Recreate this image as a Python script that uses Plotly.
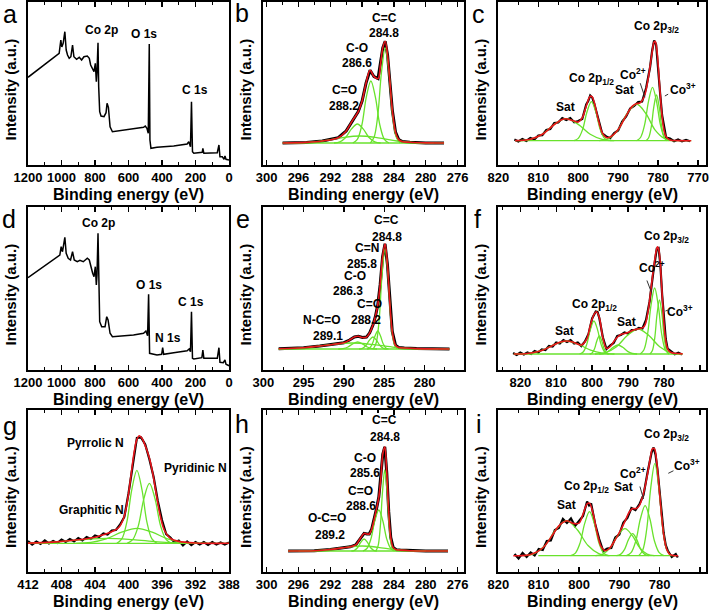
import plotly.graph_objects as go

FONT = "Liberation Sans"
RED = "#e8151b"
GREEN = "#69e22c"

# ---------- (a) survey, sample 1
a_x = [1200, 1150, 1120, 1090, 1065, 1040, 1014, 1004, 998, 990, 980, 972, 964, 954, 944, 934, 926, 910, 894, 880,
       866, 846, 834, 826, 814, 806, 798, 792, 788, 782, 778, 772, 764, 746, 734, 728, 720, 710, 696, 650,
       570, 510, 500, 490, 482, 476, 472, 466, 430, 330, 250, 240, 230, 224, 218, 210, 160, 156, 150, 70,
       60, 54, 40, 30, 24, 18, 0]
a_y = [87.7, 94.3, 97.5, 101.7, 105.5, 108.3, 111.7, 125.0, 118.0, 121.7, 133.3, 115.0, 110.0, 106.7, 108.3, 120.0, 108.3, 105.7, 107.7, 105.0,
       108.3, 109.0, 106.7, 100.0, 96.7, 93.3, 101.7, 83.3, 93.3, 122.3, 78.3, 53.3, 49.0, 48.3, 52.3, 61.7, 57.7, 38.3, 33.3, 34.3,
       35.7, 37.7, 39.0, 36.7, 31.7, 121.0, 25.0, 16.7, 17.7, 19.0, 21.0, 23.3, 18.3, 63.3, 13.3, 11.7, 12.7, 16.7, 11.7, 12.3,
       20.0, 8.3, 8.3, 5.7, 9.0, 5.7, 5.0]

# ---------- (d) survey, sample 2
d_x = [1200, 1150, 1090, 1040, 1010, 1002, 994, 980, 972, 960, 946, 934, 924, 906, 890, 870, 846, 834, 826, 814,
       806, 798, 792, 788, 782, 778, 772, 760, 740, 730, 722, 710, 696, 570, 510, 496, 486, 480, 474, 430,
       402, 396, 390, 330, 250, 238, 230, 224, 218, 210, 162, 156, 150, 70, 60, 54, 34, 24, 18, 0]
d_y = [92.3, 98.3, 105.0, 110.7, 115.0, 123.3, 118.3, 132.7, 116.7, 111.7, 110.0, 118.3, 110.0, 108.3, 109.7, 108.3, 111.7, 110.0, 103.3, 96.7,
       93.3, 103.3, 85.0, 95.0, 136.7, 81.7, 48.3, 43.3, 43.3, 53.3, 50.0, 36.7, 33.3, 35.0, 36.7, 39.0, 34.3, 75.7, 16.7, 15.0,
       15.7, 22.3, 15.7, 17.3, 19.3, 21.0, 18.3, 58.3, 11.7, 11.0, 12.3, 20.0, 11.7, 11.7, 22.3, 7.7, 7.3, 10.0, 5.7, 4.3]

# ---------- (b) C 1s, sample 1
b_fit_x = [298, 295, 293, 291, 290, 289.5, 289, 288.5, 288, 287.5, 287, 286.5, 286, 285.7, 285.4, 285.1, 284.8, 284.5,
           284.2, 283.8, 283.4, 283, 282, 280, 277.7]
b_fit_y = [22.0, 22.6, 24.0, 27.3, 34.1, 40.7, 47.0, 53.2, 63.9, 82.1, 94.8, 88.3, 86.4, 99.7, 117.1, 123.7, 110.0, 82.4,
           54.9, 32.9, 25.4, 23.6, 22.7, 22.1, 22.0]
b_peaks_x = [[283.23, 283.7, 284.17, 284.63, 285.1, 285.57, 286.03, 286.5, 286.97],
             [284.63, 285.2, 285.77, 286.33, 286.9, 287.47, 288.03, 288.6, 289.17],
             [285.67, 286.4, 287.13, 287.87, 288.6, 289.33, 290.07, 290.8, 291.53],
             [279.0, 281.3, 283.6, 286.0, 288.3, 290.6, 293.0, 295.3, 297.6]]
b_peaks_y = [[22, 27.7, 49.6, 92.3, 117, 92.3, 49.6, 27.7, 22],
             [22, 25.7, 40, 67.9, 84, 67.9, 40, 25.7, 22],
             [22, 23.1, 27.5, 36.1, 41, 36.1, 27.5, 23.1, 22],
             [22, 22.4, 24, 27.2, 29, 27.2, 24, 22.4, 22]]
b_base_x = [298.0, 277.7]
b_base_y = [22, 22]

# ---------- (e) C 1s, sample 2
e_fit_x = [298.1, 295, 293, 291, 290, 289.3, 288.7, 288.2, 287.7, 287.2, 286.8, 286.4, 286.1, 285.8, 285.5, 285.2, 284.9,
           284.6, 284.3, 284, 283.6, 283.2, 282.5, 281, 276.9]
e_fit_y = [21.2, 22.3, 24.0, 26.0, 27.3, 30.0, 33.1, 33.7, 32.5, 32.9, 37.2, 45.0, 53.3, 65.1, 85.5, 113.3, 126.1,
           105.3, 67.1, 38.6, 24.8, 22.5, 22.0, 21.4, 21.0]
e_peaks_x = [[283.43, 283.8, 284.17, 284.53, 284.9, 285.27, 285.63, 286.0, 286.37],
             [284.47, 284.8, 285.13, 285.47, 285.8, 286.13, 286.47, 286.8, 287.13],
             [284.67, 285.1, 285.53, 285.97, 286.4, 286.83, 287.27, 287.7, 288.13],
             [285.9, 286.5, 287.1, 287.7, 288.3, 288.9, 289.5, 290.1, 290.7],
             [278.3, 281.0, 283.7, 286.3, 289.0, 291.7, 294.3, 297.0, 298.1]]
e_peaks_y = [[21, 27, 50, 95, 121, 95, 50, 27, 21],
             [21, 22.1, 26.2, 34.3, 39, 34.3, 26.2, 22.1, 21],
             [21, 21.7, 24.5, 29.9, 33, 29.9, 24.5, 21.7, 21],
             [21, 21.4, 23, 26.2, 28, 26.2, 23, 21.4, 21],
             [21, 21.4, 22.7, 25.4, 27, 25.4, 22.7, 21.4, 21.2]]
e_base_x = [298.1, 276.9]
e_base_y = [21, 21]

# ---------- (h) C 1s, sample 3
h_fit_x = [297.3, 294, 292, 290.5, 289.5, 288.8, 288.3, 287.75, 287.4, 287.1, 286.8, 286.5, 286.2, 285.9, 285.65, 285.4,
           285.15, 284.9, 284.65, 284.4, 284.1, 283.7, 283.2, 282, 280, 277.2]
h_fit_y = [21.0, 21.3, 22.5, 24.1, 25.2, 27.2, 32.7, 38.6, 38.0, 38.0, 42.7, 52.1, 62.9, 74.9, 93.3, 117.8,
           125.2, 99.1, 60.1, 34.7, 24.6, 22.3, 21.9, 21.3, 21.0, 21.0]
h_peaks_x = [[284.02, 284.3, 284.58, 284.87, 285.15, 285.43, 285.72, 286.0, 286.28],
             [283.9, 284.4, 284.9, 285.4, 285.9, 286.4, 286.9, 287.4, 287.9],
             [286.15, 286.55, 286.95, 287.35, 287.75, 288.15, 288.55, 288.95, 289.35],
             [280, 282, 284, 286, 288, 290, 292, 294, 296]]
h_peaks_y = [[21, 25.9, 44.5, 80.9, 102, 80.9, 44.5, 25.9, 21],
             [21, 23.5, 32.9, 51.3, 62, 51.3, 32.9, 23.5, 21],
             [21, 21.7, 24.5, 29.9, 33, 29.9, 24.5, 21.7, 21],
             [21, 21.3, 22.5, 24.7, 26, 24.7, 22.5, 21.3, 21]]
h_base_x = [297.3, 277.2]
h_base_y = [21, 21]

# ---------- (c) Co 2p, sample 1
c_data_x = [816, 815, 814, 813, 812, 811, 810, 809, 808, 807, 806, 805, 804, 803, 802, 801, 800, 799, 798, 797.5,
            797, 796.5, 796, 795, 794, 793, 792, 791, 790, 789, 788, 787, 786, 785, 784, 783, 782.5, 782, 781.5, 781,
            780.5, 780, 779.5, 779, 778, 777, 776, 775, 774, 773, 772]
c_data_y = [25.5, 23.5, 26.0, 24.0, 27.0, 25.5, 29.5, 29.8, 35.0, 36.0, 42.0, 42.5, 47.0, 45.0, 47.0, 42.8, 44.0, 46.0, 60.5, 64.0,
            69.5, 67.5, 61.5, 46.5, 31.5, 28.5, 26.8, 32.0, 34.5, 43.5, 48.5, 56.5, 59.0, 63.0, 63.5, 77.0, 87.0, 98.0, 114.0, 124.5,
            120.5, 100.0, 72.0, 50.0, 27.5, 26.5, 23.8, 25.5, 23.6, 25.0, 23.8]
c_fit_x = [815.8, 812, 809, 806, 804, 803, 801, 800, 799, 798, 797, 796.5, 796, 795, 794, 793, 792, 790, 788, 786.5,
           785.5, 784.5, 783.5, 782.5, 782, 781.5, 781, 780.7, 780.3, 780, 779.5, 779, 778.5, 778, 777, 775, 771.7]
c_fit_y = [24.4, 25.7, 30.7, 40.5, 45.6, 46.3, 43.9, 42.9, 47.1, 59.0, 68.8, 68.1, 62.8, 45.7, 32.4, 27.6, 27.9, 35.4, 49.3, 58.6,
           61.3, 62.2, 68.0, 85.9, 98.9, 112.7, 123.0, 123.5, 114.8, 101.3, 73.0, 48.6, 34.5, 28.3, 25.1, 24.4, 24.3]
c_peaks_x = [[791, 794, 797, 800, 803, 806, 809, 812, 815],
             [792.3, 793.4, 794.5, 795.6, 796.7, 797.8, 798.9, 800.0, 801.1],
             [776.07, 778.4, 780.73, 783.07, 785.4, 787.73, 790.07, 792.4, 794.73],
             [777.4, 778.4, 779.4, 780.4, 781.4, 782.4, 783.4, 784.4, 785.4],
             [777.73, 778.4, 779.07, 779.73, 780.4, 781.07, 781.73, 782.4, 783.07]]
c_peaks_y = [[24.3, 25.6, 30.7, 40.6, 46.3, 40.6, 30.7, 25.6, 24.3],
             [24.3, 26.6, 35.6, 53.2, 63.3, 53.2, 35.6, 26.6, 24.3],
             [24.3, 26.5, 34.9, 51.5, 61, 51.5, 34.9, 26.5, 24.3],
             [24.3, 27.5, 39.8, 63.7, 77.6, 63.7, 39.8, 27.5, 24.3],
             [24.3, 27.0, 37.6, 58.1, 70, 58.1, 37.6, 27.0, 24.3]]
c_base_x = [815.8, 771.7]
c_base_y = [24.3, 24.3]

# ---------- (f) Co 2p, sample 2
f_data_x = [822, 821, 820, 819, 818, 817, 816, 815, 814, 813, 812, 811, 810, 809, 808, 807, 806, 805, 804, 803,
            802, 801, 800, 799, 798.5, 798, 797, 796, 795, 794, 793, 792, 791, 790, 789, 788, 787, 786, 785, 784,
            783, 782.5, 782, 781.5, 781, 780.5, 780, 779.5, 779, 778, 777, 776, 775]
f_data_y = [17.0, 15.0, 17.5, 15.5, 17.5, 16.0, 19.0, 17.5, 20.5, 20.0, 24.0, 23.5, 27.5, 26.5, 30.0, 28.0, 30.0, 26.5, 27.5, 24.0,
            28.5, 36.0, 51.5, 58.5, 58.0, 52.0, 32.5, 21.0, 24.5, 27.0, 34.0, 35.0, 37.5, 36.5, 40.0, 40.0, 42.0, 41.5, 50.0, 68.5,
            97.0, 112.0, 121.5, 122.0, 105.0, 75.0, 47.5, 31.0, 21.5, 18.5, 15.8, 17.2, 15.5]
f_fit_x = [821.8, 818, 814, 811, 809, 807, 805, 803, 801.5, 800.5, 799.5, 798.8, 798, 797, 796, 795, 794, 793, 792, 790,
           788.5, 787, 785.5, 784.5, 783.5, 782.8, 782.2, 781.8, 781.4, 781, 780.6, 780.2, 779.8, 779.3, 778.8, 778, 777, 774.8]
f_fit_y = [16.0, 16.5, 19.5, 24.5, 27.8, 29.0, 27.5, 25.0, 31.0, 44.5, 55.4, 58.2, 52.4, 31.9, 21.6, 23.3, 28.2, 32.8, 35.5, 37.4,
           40.0, 41.2, 43.6, 57.2, 84.6, 104.3, 118.3, 123.2, 119.4, 104.4, 81.2, 57.1, 38.3, 25.1, 19.8, 17.5, 16.7, 16.1]
f_peaks_x = [[793.77, 797.1, 800.43, 803.77, 807.1, 810.43, 813.77, 817.1, 820.43],
             [795.5, 796.5, 797.5, 798.5, 799.5, 800.5, 801.5, 802.5, 803.5],
             [795.33, 796.0, 796.67, 797.33, 798.0, 798.67, 799.33, 800.0, 800.67],
             [787.47, 788.8, 790.13, 791.47, 792.8, 794.13, 795.47, 796.8, 798.13],
             [775.2, 778.2, 781.2, 784.2, 787.2, 790.2, 793.2, 796.2, 799.2],
             [778.6, 779.6, 780.6, 781.6, 782.6, 783.6, 784.6, 785.6, 786.6],
             [778.58, 779.25, 779.92, 780.58, 781.25, 781.92, 782.58, 783.25, 783.92]]
f_peaks_y = [[16, 16.8, 19.8, 25.6, 29, 25.6, 19.8, 16.8, 16],
             [16, 18, 25.6, 40.4, 49, 40.4, 25.6, 18, 16],
             [16, 17.1, 21.2, 29.3, 34, 29.3, 21.2, 17.1, 16],
             [16, 16.5, 18.6, 22.7, 25, 22.7, 18.6, 16.5, 16],
             [16, 17.5, 23.3, 34.5, 41, 34.5, 23.3, 17.5, 16],
             [16, 20, 35.1, 64.8, 82, 64.8, 35.1, 20, 16],
             [16, 19.2, 31.7, 56, 70, 56, 31.7, 19.2, 16]]
f_base_x = [821.8, 774.8]
f_base_y = [16, 16]

# ---------- (i) Co 2p, sample 3
i_data_x = [816, 815, 814, 813, 812, 811, 810, 809, 808, 807, 806, 805, 804, 803, 802, 801, 800, 799, 798, 797.5,
            797, 796, 795, 794, 793, 792, 791, 790, 789, 788, 787, 786, 785, 784, 783, 782.5, 782, 781.5, 781, 780.5,
            780, 779.5, 779, 778.5, 778, 777, 776, 775.5]
i_data_y = [18.0, 13.5, 19.0, 15.0, 19.5, 16.5, 23.0, 22.0, 31.0, 31.5, 42.0, 44.0, 53.0, 49.0, 53.5, 46.0, 51.0, 56.0, 70.5, 66.5,
            68.5, 48.0, 33.0, 21.0, 23.5, 24.0, 34.5, 37.5, 49.5, 54.0, 64.0, 62.0, 68.0, 77.0, 99.5, 110.0, 119.5, 124.5, 117.0, 101.0,
            79.0, 57.0, 39.0, 27.0, 21.5, 15.0, 18.0, 14.5]
i_fit_x = [816.3, 812, 809, 806.5, 805, 803, 801.5, 800, 799, 798, 797.4, 796.5, 795.5, 794.5, 793.5, 792.5, 791, 789.5, 788.5,
           787.5, 786.7, 785.8, 785, 784.3, 783.6, 782.9, 782.3, 781.8, 781.3, 780.8, 780.3, 779.8, 779.3, 778.8, 778.2, 777.5,
           776.5, 775.4]
i_fit_y = [16.3, 17.4, 24.0, 37.5, 46.2, 51.3, 48.6, 48.9, 57.9, 68.1, 68.9, 58.3, 39.0, 25.4, 21.3, 23.5, 32.3, 43.4, 51.6,
           60.2, 63.4, 63.4, 66.6, 74.5, 85.7, 100.4, 114.5, 123.1, 123.3, 112.5, 92.3, 68.5, 47.3, 32.2, 22.2, 17.7,
           16.4, 16.3]
i_peaks_x = [[792.43, 795.1, 797.77, 800.43, 803.1, 805.77, 808.43, 811.1, 813.77],
             [792.73, 793.9, 795.07, 796.23, 797.4, 798.57, 799.73, 800.9, 802.07],
             [781.27, 783.1, 784.93, 786.77, 788.6, 790.43, 792.27, 794.1, 795.93],
             [782.7, 783.7, 784.7, 785.7, 786.7, 787.7, 788.7, 789.7, 790.7],
             [778.93, 780.1, 781.27, 782.43, 783.6, 784.77, 785.93, 787.1, 788.27],
             [777.2, 778.2, 779.2, 780.2, 781.2, 782.2, 783.2, 784.2, 785.2]]
i_peaks_y = [[16.3, 18.4, 26.5, 42.2, 51.3, 42.2, 26.5, 18.4, 16.3],
             [16.3, 18.9, 29.1, 48.9, 60.3, 48.9, 29.1, 18.9, 16.3],
             [16.3, 17.9, 24.1, 36.3, 43.3, 36.3, 24.1, 17.9, 16.3],
             [16.3, 17.6, 22.7, 32.6, 38.3, 32.6, 22.7, 17.6, 16.3],
             [16.3, 19.3, 30.8, 53.3, 66.3, 53.3, 30.8, 19.3, 16.3],
             [16.3, 21.8, 43, 84.4, 108.3, 84.4, 43, 21.8, 16.3]]
i_base_x = [810.1, 776.0]
i_base_y = [16.3, 16.3]

# ---------- (g) N 1s, sample 2
g_data_x = [412, 411.5, 411, 410.5, 410, 409.5, 409, 408.5, 408, 407.5, 407, 406.5, 406, 405.5, 405, 404.5, 404,
            403.5, 403, 402.5, 402, 401.5, 401, 400.5, 400, 399.5, 399, 398.5, 398, 397.5, 397, 396.5, 396, 395.5,
            395, 394.5, 394, 393.5, 393, 392.5, 392, 391.5, 391, 390.5, 390, 389.5, 389, 388.5, 388]
g_data_y = [31, 27.5, 30.5, 28, 31.5, 28.5, 31, 29, 32.5, 30, 33, 30.5, 34, 31.5, 35, 33, 36.5,
            35, 38.5, 37.5, 41.5, 42, 47.5, 55, 78.5, 108, 134, 134.5, 127.5, 112.5, 95, 71, 52, 38,
            34.5, 29.5, 31.5, 26.5, 30.5, 27, 30, 27.5, 30, 27, 30, 27.5, 29.5, 27.5, 29.5]
g_fit_x = [412, 409, 406, 404, 403, 402, 401.2, 400.6, 400.1, 399.7, 399.3, 399.0, 398.7, 398.4, 398.1, 397.8, 397.5,
           397.1, 396.7, 396.2, 395.7, 395, 394, 392, 388]
g_fit_y = [28.9, 29.9, 32.2, 34.8, 37.2, 40.3, 44.2, 53.3, 72.7, 96.9, 121.0, 132.6, 136.3, 133.9, 128.4, 121.8, 113.7,
           98.3, 78.8, 55.9, 41.5, 33.7, 30.6, 29.0, 28.7]
g_peaks_x = [[396.6, 397.2, 397.8, 398.4, 399.0, 399.6, 400.2, 400.8, 401.4],
             [394.83, 395.5, 396.17, 396.83, 397.5, 398.17, 398.83, 399.5, 400.17],
             [391.67, 393.5, 395.33, 397.17, 399.0, 400.83, 402.67, 404.5, 406.33],
             [390.5, 393.5, 396.5, 399.5, 402.5, 405.5, 408.5, 411.5, 414.5]]
g_peaks_y = [[28.7, 33.1, 49.9, 82.7, 101.7, 82.7, 49.9, 33.1, 28.7],
             [28.7, 32.3, 46.1, 73.1, 88.7, 73.1, 46.1, 32.3, 28.7],
             [28.7, 29.6, 33.1, 39.8, 43.7, 39.8, 33.1, 29.6, 28.7],
             [28.7, 29.0, 30.2, 32.4, 33.7, 32.4, 30.2, 29.0, 28.7]]
g_base_x = [412, 388]
g_base_y = [28.7, 28.7]

# ---------- layout of the 3x3 grid (pixels)
W, H = 710, 612
cols = [(28, 229), (263, 464), (498, 706)]
rows = [(2, 165), (207, 370), (410, 572)]
x_ranges = [[1200, 0], [300.46, 275.19], [820.1, 768.0],
            [1200, 0], [300.04, 275.1], [826.2, 768.3],
            [412, 388], [300.46, 275.19], [820.1, 768.5]]
x_dticks = [(200, 100), (4, 2), (10, 5),
            (200, 100), (5, 2.5), (10, 5),
            (4, 2), (4, 2), (10, 5)]
letters = ["a", "b", "c", "d", "e", "f", "g", "h", "i"]
letter_pos = [(10, 14), (242, 13), (478, 14), (9, 219), (243, 219), (477, 219), (10, 426), (242, 424), (479, 424)]


def ax_names(k):
    n = "" if k == 0 else str(k + 1)
    return "x" + n, "y" + n


fig = go.Figure()


def add_survey(k, xs, ys):
    xa, ya = ax_names(k)
    fig.add_trace(go.Scatter(x=xs, y=ys, mode="lines", line=dict(color="black", width=1.5),
                             xaxis=xa, yaxis=ya, hoverinfo="skip"))


def add_fit(k, data_x, data_y, fit_x, fit_y, peaks_x, peaks_y, base_x, base_y, data_w=2.2):
    xa, ya = ax_names(k)
    fig.add_trace(go.Scatter(x=data_x, y=data_y, mode="lines", line=dict(color="black", width=data_w),
                             xaxis=xa, yaxis=ya, hoverinfo="skip"))
    for px_, py_ in zip(peaks_x, peaks_y):
        fig.add_trace(go.Scatter(x=px_, y=py_, mode="lines", line=dict(color=GREEN, width=1.3, shape="spline"),
                                 xaxis=xa, yaxis=ya, hoverinfo="skip"))
    fig.add_trace(go.Scatter(x=base_x, y=base_y, mode="lines", line=dict(color=GREEN, width=1.3),
                             xaxis=xa, yaxis=ya, hoverinfo="skip"))
    fig.add_trace(go.Scatter(x=fit_x, y=fit_y, mode="lines", line=dict(color=RED, width=1.6, shape="spline"),
                             xaxis=xa, yaxis=ya, hoverinfo="skip"))


add_survey(0, a_x, a_y)
add_fit(1, b_fit_x, b_fit_y, b_fit_x, b_fit_y, b_peaks_x, b_peaks_y, b_base_x, b_base_y, 3)
add_fit(2, c_data_x, c_data_y, c_fit_x, c_fit_y, c_peaks_x, c_peaks_y, c_base_x, c_base_y)
add_survey(3, d_x, d_y)
add_fit(4, e_fit_x, e_fit_y, e_fit_x, e_fit_y, e_peaks_x, e_peaks_y, e_base_x, e_base_y, 3)
add_fit(5, f_data_x, f_data_y, f_fit_x, f_fit_y, f_peaks_x, f_peaks_y, f_base_x, f_base_y)
add_fit(6, g_data_x, g_data_y, g_fit_x, g_fit_y, g_peaks_x, g_peaks_y, g_base_x, g_base_y)
add_fit(7, h_fit_x, h_fit_y, h_fit_x, h_fit_y, h_peaks_x, h_peaks_y, h_base_x, h_base_y, 3)
add_fit(8, i_data_x, i_data_y, i_fit_x, i_fit_y, i_peaks_x, i_peaks_y, i_base_x, i_base_y)

layout = {}
ann = []
bold = dict(family=FONT, color="black", weight="bold")
for k in range(9):
    r, c = divmod(k, 3)
    xa, ya = ax_names(k)
    x0, x1 = cols[c]
    y0, y1 = rows[r]
    layout["xaxis" + xa[1:]] = dict(
        domain=[x0 / W, x1 / W], anchor=ya, range=x_ranges[k], tick0=0, dtick=x_dticks[k][0],
        ticks="inside", ticklen=5, tickwidth=1.3, tickcolor="black", automargin=False,
        showline=True, linecolor="black", linewidth=1.6, mirror="ticks",
        showgrid=False, zeroline=False, tickfont=dict(size=13, **bold),
        minor=dict(tick0=0, dtick=x_dticks[k][1], ticks="inside", ticklen=3, tickwidth=1.2,
                   tickcolor="black", showgrid=False))
    layout["yaxis" + ya[1:]] = dict(
        domain=[1 - y1 / H, 1 - y0 / H], anchor=xa, range=[0, y1 - y0], automargin=False,
        showticklabels=False, ticks="", showline=True, linecolor="black", linewidth=1.6,
        mirror=True, showgrid=False, zeroline=False)
    # axis titles
    ann.append(dict(x=(x0 + x1) / 2 / W, y=1 - (y1 + 29) / H, xref="paper", yref="paper",
                    xanchor="center", yanchor="middle",
                    text="Binding energy (eV)", showarrow=False, font=dict(size=16, **bold)))
    ann.append(dict(x=(x0 - 18) / W, y=1 - ((y0 + y1) / 2 + 6) / H, xref="paper", yref="paper",
                    xanchor="center", yanchor="middle",
                    text="Intensity (a.u.)", textangle=-90, showarrow=False, font=dict(size=15, **bold)))
    lx, ly = letter_pos[k]
    ann.append(dict(x=lx / W, y=1 - ly / H, xref="paper", yref="paper", text=letters[k], showarrow=False,
                    xanchor="center", yanchor="middle",
                    font=dict(family=FONT, size=25, color="black")))


def label(k, x, y, text, size=12):
    xa, ya = ax_names(k)
    ann.append(dict(x=x, y=y, xref=xa, yref=ya, text=text, showarrow=False, font=dict(size=size, **bold)))


def pointer(k, x, y, x_from, y_from):
    xa, ya = ax_names(k)
    ann.append(dict(x=x, y=y, ax=x_from, ay=y_from, xref=xa, yref=ya, axref=xa, ayref=ya, text="",
                    showarrow=True, arrowhead=0, arrowwidth=1, arrowcolor="#333333"))


# (a)
label(0, 760, 135, "Co 2p")
label(0, 506, 130.7, "O 1s")
label(0, 204, 75, "C 1s")
# (d)
label(3, 780, 146.7, "Co 2p")
label(3, 480, 85, "O 1s")
label(3, 362, 31.7, "N 1s")
label(3, 226, 68.3, "C 1s")
# (b)
label(1, 285.23, 146.7, "C=C")
label(1, 285.23, 131.7, "284.8")
label(1, 288.7, 117.3, "C-O")
label(1, 288.7, 102.3, "286.6")
label(1, 290.25, 75, "C=O")
label(1, 290.25, 59, "288.2")
# (e)
label(4, 284.71, 150, "C=C")
label(4, 284.71, 133.3, "284.8")
label(4, 287.19, 122.3, "C=N")
label(4, 287.81, 105.7, "285.8")
label(4, 288.64, 94.3, "C-O")
label(4, 289.46, 79, "286.3")
label(4, 286.78, 65.7, "C=O")
label(4, 292.69, 50, "N-C=O")
label(4, 287.31, 50, "288.2")
label(4, 291.94, 34, "289.1")
# (h)
label(7, 285.15, 152, "C=C")
label(7, 285.15, 134.7, "284.8")
label(7, 287.66, 114.3, "C-O")
label(7, 287.66, 98.7, "285.6")
label(7, 288.16, 81, "C=O")
label(7, 288.16, 66.3, "288.6")
label(7, 292.38, 53.7, "O-C=O")
label(7, 292.05, 37, "289.2")
# (g)
label(6, 404, 128.7, "Pyrrolic N")
label(6, 392, 103.7, "Pyridinic N")
label(6, 404.4, 62, "Graphitic N")
# (c)
label(2, 803.3, 57.7, "Sat")
label(2, 796.7, 85.7, "Co 2p<sub>1/2</sub>")
label(2, 788.3, 75, "Sat")
label(2, 786.25, 91, "Co<sup>2+</sup>")
label(2, 773.75, 75.7, "Co<sup>3+</sup>")
label(2, 780.4, 138.3, "Co 2p<sub>3/2</sub>")
pointer(2, 783.3, 67.7, 784.6, 83.3)
pointer(2, 778.3, 69, 777.1, 71.7)
# (f)
label(5, 807.7, 39, "Sat")
label(5, 799.2, 65, "Co 2p<sub>1/2</sub>")
label(5, 790.5, 47.7, "Sat")
label(5, 783.3, 103.3, "Co<sup>2+</sup>")
label(5, 775.5, 59, "Co<sup>3+</sup>")
label(5, 779.4, 133.3, "Co 2p<sub>3/2</sub>")
pointer(5, 783.5, 77.7, 784.9, 91)
pointer(5, 779.6, 59, 778.0, 61)
# (i)
label(8, 803.1, 67, "Sat")
label(8, 798.1, 85.3, "Co 2p<sub>1/2</sub>")
label(8, 789, 85.3, "Sat")
label(8, 786.5, 98.7, "Co<sup>2+</sup>")
label(8, 773.3, 107, "Co<sup>3+</sup>")
label(8, 778.3, 137, "Co 2p<sub>3/2</sub>")
pointer(8, 784, 73, 785, 87)
pointer(8, 777.85, 98.7, 776.2, 102)

fig.update_layout(**layout)
fig.update_layout(width=W, height=H, margin=dict(l=0, r=0, t=0, b=0, autoexpand=False), showlegend=False,
                  plot_bgcolor="white", paper_bgcolor="white", annotations=ann,
                  font=dict(family=FONT, color="black"))
# the page body has a default 8px margin; drop it so the figure sits at the window origin
fig.write_html("out.html", config={"displayModeBar": False, "staticPlot": True},
               post_script="document.body.style.margin = '0';")
